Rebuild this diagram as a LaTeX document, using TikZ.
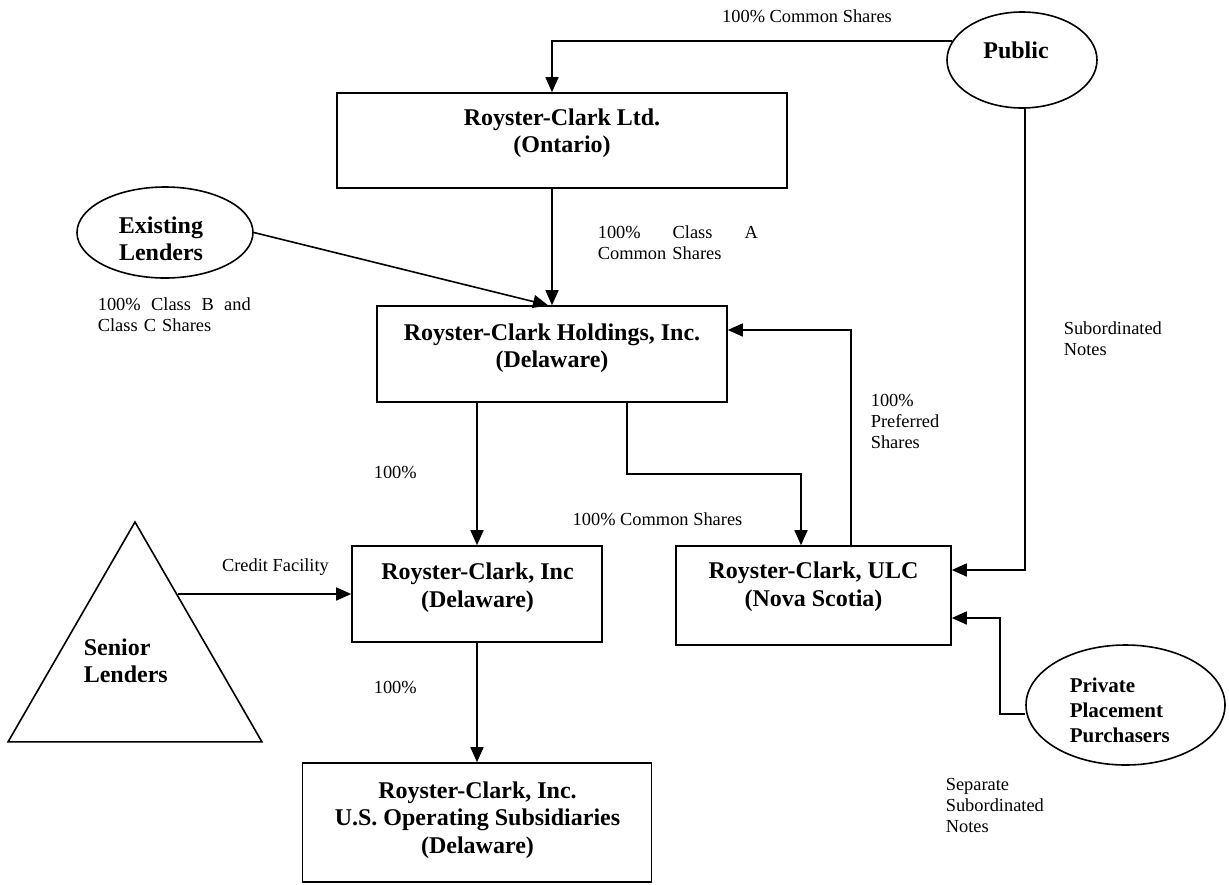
\documentclass[tikz,border=0pt]{standalone}
\usepackage{fontspec}
\setmainfont{Liberation Serif}
\usetikzlibrary{shapes.geometric,arrows.meta}
\begin{document}
\begin{tikzpicture}[x=1pt,y=-1pt,
  line width=1.6pt,
  box/.style={draw, rectangle, inner sep=0pt},
  oval/.style={draw, ellipse, inner sep=0pt},
  ttl/.style={font=\fontsize{24}{27.5}\selectfont\bfseries, align=center, inner sep=0pt},
  lab/.style={font=\fontsize{18.4}{21}\selectfont, inner sep=0pt},
  arr/.style={-{Triangle[length=15pt,width=13pt]}},
]
\useasboundingbox (0,0) rectangle (1229,884);

% boxes
\node[box, minimum width=450pt, minimum height=95pt] (ltd) at (562,140.5) {};
\node[ttl] (ltdT) at (562,133) {Royster-Clark Ltd.\\(Ontario)};

\node[box, minimum width=350pt, minimum height=96pt] (hold) at (552,354) {};
\node[ttl] (holdT) at (552,348) {Royster-Clark Holdings, Inc.\\(Delaware)};

\node[box, minimum width=250pt, minimum height=96pt] (inc) at (477,594) {};
\node[ttl] (incT) at (477.5,587.5) {Royster-Clark, Inc\\(Delaware)};

\node[box, minimum width=275pt, minimum height=99pt] (ulc) at (813.5,595.5) {};
\node[ttl] (ulcT) at (813.5,586.5) {Royster-Clark, ULC\\(Nova Scotia)};

\node[box, minimum width=349pt, minimum height=119pt] (ops) at (477,822.5) {};
\node[ttl] (opsT) at (477.5,820) {Royster-Clark, Inc.\\U.S. Operating Subsidiaries\\(Delaware)};

% ovals and triangle
\node[oval, minimum width=150pt, minimum height=96pt] (public) at (1022,60) {};
\node[ttl] (publicT) at (1016,50) {Public};

\node[oval, minimum width=176pt, minimum height=91pt] (existing) at (165,232.5) {};
\node[ttl] (existingT) at (161,239) {Existing\\Lenders};

\node[oval, minimum width=199pt, minimum height=120pt] (private) at (1125.5,705) {};
\node[font=\fontsize{21}{25}\selectfont\bfseries, align=left, inner sep=0pt, anchor=west] (privateT) at (1069,710) {Private\\Placement\\Purchasers};

\node[draw, regular polygon, regular polygon sides=3, minimum size=293.2pt, inner sep=0pt] (senior) at (135,668.6) {};
\node[ttl, align=left, anchor=west] (seniorT) at (83,661) {Senior\\Lenders};

% connectors
\draw[arr] (public.165.5) -| ([xshift=-10pt]ltd.north);
\draw[arr] ([xshift=-10pt]ltd.south) -- (hold.north);
\draw[arr] (existing.east) -- ([xshift=-4pt]hold.north);
\draw[arr] ([xshift=-75pt]hold.south) -- (inc.north);
\draw[arr] ([xshift=75pt]hold.south) -- ++(0,71) -| ([xshift=-12.5pt]ulc.north);
\draw[arr] ([xshift=37.5pt]ulc.north) |- ([yshift=24pt]hold.east);
\draw[arr] ([xshift=3pt]public.south) |- ([yshift=25.5pt]ulc.east);
\draw[arr] ([yshift=-9pt]private.west) -- ++(-25,0) |- ([yshift=-22.5pt]ulc.east);
\draw[arr] (senior.60 |- inc.west) -- (inc.west);
\draw[arr] (inc.south) -- (ops.north);

% labels
\node[lab] (l1) at (807,16) {100\% Common Shares};
\node[lab, text width=160pt, align=left, anchor=west] (l2) at (597,243) {100\%\hfill Class\hfill A\\Common Shares};
\node[lab, text width=153pt, align=left, anchor=west] (l3) at (97,314.5) {100\%\hfill Class\hfill B\hfill and\\Class C Shares};
\node[lab, align=left, anchor=west] (l4) at (1063,338.5) {Subordinated\\Notes};
\node[lab, anchor=west] (l5) at (373,472) {100\%};
\node[lab] (l6) at (657.5,519) {100\% Common Shares};
\node[lab, align=left, anchor=west] (l7) at (870,421) {100\%\\Preferred\\Shares};
\node[lab] (l8) at (275.5,567) {Credit Facility};
\node[lab, anchor=west] (l9) at (373,687) {100\%};
\node[lab, align=left, anchor=west] (l10) at (945,805) {Separate\\Subordinated\\Notes};
\end{tikzpicture}
\end{document}
